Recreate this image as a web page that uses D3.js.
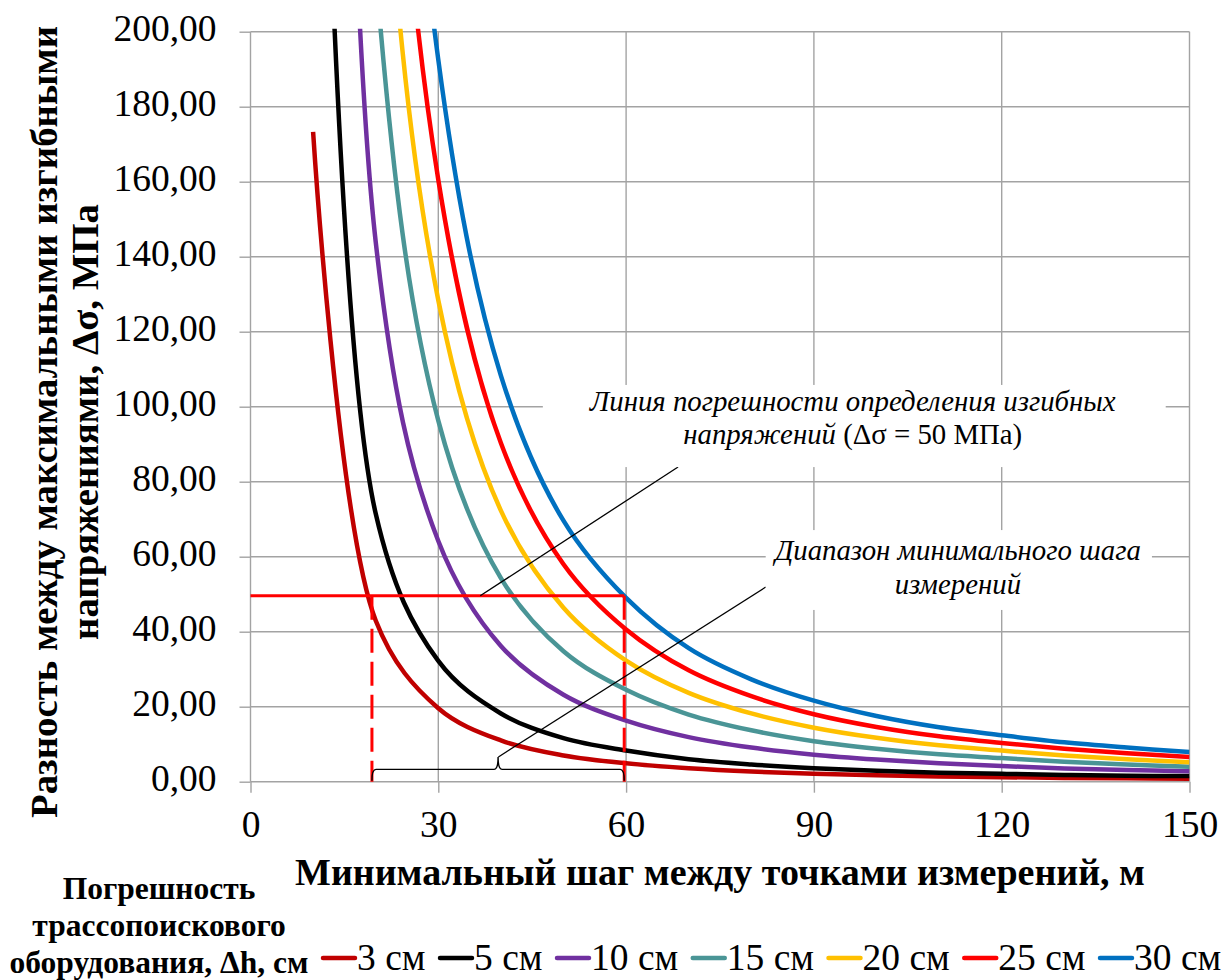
<!DOCTYPE html>
<html>
<head>
<meta charset="utf-8">
<script src="https://cdn.jsdelivr.net/npm/d3@7"></script>
<style>
  body { margin: 0; background: #fff; }
  svg { display: block; }
</style>
</head>
<body>
<div id="chart"></div>
<script>
'use strict';

// minimal step between measuring points, m
var steps = [10, 20, 30, 40, 50, 60, 70, 80, 90, 100, 110, 120, 130, 140, 150];

// legend names and colours (line finder error, cm)
var names = ['3 см', '5 см', '10 см', '15 см', '20 см', '25 см', '30 см'];
var colors = ['#C00000', '#000000', '#7030A0', '#4A9596', '#FFC000', '#FF0000', '#0070C0'];

// bending stress difference, MPa (values above 200 are off the chart)
var dh3  = [173.3, 43.0, 19.6, 11.0, 7.0, 4.9, 3.6, 2.7, 2.1, 1.7, 1.4, 1.2, 1.0, 0.9, 0.8];
var dh5  = [400.0, 71.5, 32.2, 18.2, 11.6, 8.3, 6.0, 4.6, 3.6, 2.9, 2.4, 2.1, 1.8, 1.6, 1.5];
var dh10 = [1050.0, 144.0, 64.2, 36.2, 23.2, 16.3, 11.9, 9.1, 7.2, 5.9, 4.9, 4.2, 3.5, 3.1, 2.8];
var dh15 = [865.0, 216.0, 96.3, 54.3, 34.8, 24.5, 17.9, 13.7, 10.8, 8.8, 7.3, 6.3, 5.3, 4.6, 4.0];
var dh20 = [1153.0, 288.0, 128.4, 72.3, 46.4, 32.3, 23.7, 18.2, 14.4, 11.7, 9.7, 8.3, 7.0, 6.0, 5.2];
var dh25 = [1442.0, 360.0, 160.5, 90.3, 58.0, 40.6, 29.7, 22.8, 18.0, 14.6, 12.1, 10.3, 8.8, 7.6, 6.6];
var dh30 = [1730.0, 432.0, 192.5, 108.3, 69.6, 49.0, 35.6, 27.3, 21.6, 17.5, 14.5, 12.4, 10.5, 9.1, 7.9];
var series = [dh3, dh5, dh10, dh15, dh20, dh25, dh30];

// axis ticks
var xTicks = [0, 30, 60, 90, 120, 150];
var yTicks = [0, 20, 40, 60, 80, 100, 120, 140, 160, 180, 200];

// error level and step range marked on the chart
var errorLevel = 49.6;
var stepRange = [19.4, 59.7];

// constants
var width = 1223,
  height = 980,
  font = 'Liberation Serif',
  plot = { left: 250.5, right: 1189.5, top: 31.7, bottom: 781.7 };

var fmt = d3.formatLocale({ decimal: ',', thousands: ' ', grouping: [3], currency: ['', ''] }).format('.2f');

var x = d3.scaleLinear().domain([0, 150]).range([plot.left, plot.right]);
var y = d3.scaleLinear().domain([0, 200]).range([plot.bottom, plot.top]);

var svg = d3.select('#chart')
  .append('svg')
  .attr('width', width)
  .attr('height', height)
  .attr('font-family', font);

svg.append('defs')
  .append('clipPath')
    .attr('id', 'plot-clip')
  .append('rect')
    .attr('x', plot.left)
    .attr('y', plot.top - 3)
    .attr('width', plot.right - plot.left)
    .attr('height', plot.bottom - plot.top + 3);

//gridlines
var grid = svg.append('g')
  .attr('stroke', '#A3A3A3')
  .attr('stroke-width', 1.4);

grid.selectAll('line.h')
  .data(yTicks)
  .enter()
  .append('line')
    .attr('x1', plot.left)
    .attr('x2', plot.right)
    .attr('y1', function(d) { return y(d); })
    .attr('y2', function(d) { return y(d); });

grid.selectAll('line.v')
  .data(xTicks)
  .enter()
  .append('line')
    .attr('x1', function(d) { return x(d); })
    .attr('x2', function(d) { return x(d); })
    .attr('y1', plot.top)
    .attr('y2', plot.bottom);

//axes
var yAxis = svg.append('g')
  .attr('transform', 'translate(' + plot.left + ',0)')
  .call(d3.axisLeft(y).tickValues(yTicks).tickSize(11).tickPadding(23).tickFormat(fmt));

var xAxis = svg.append('g')
  .attr('transform', 'translate(0,' + plot.bottom + ')')
  .call(d3.axisBottom(x).tickValues(xTicks).tickSize(11).tickPadding(18));

[xAxis, yAxis].forEach(function(ax) {
  ax.attr('font-family', font).attr('font-size', null);
  ax.select('.domain').remove();
  ax.selectAll('.tick line').attr('stroke', '#A3A3A3').attr('stroke-width', 1.4);
  ax.selectAll('.tick text').attr('fill', '#000').attr('font-size', 37.5);
});
yAxis.selectAll('.tick text').attr('dy', '0.24em');

//curves
var line = d3.line()
  .x(function(d, i) { return x(steps[i]); })
  .y(function(d) { return y(d); })
  .curve(d3.curveCatmullRom.alpha(0.5));

svg.append('g')
  .attr('clip-path', 'url(#plot-clip)')
  .selectAll('path')
  .data(series)
  .enter()
  .append('path')
    .attr('d', line)
    .attr('fill', 'none')
    .attr('stroke', function(d, i) { return colors[i]; })
    .attr('stroke-width', 4.5)
    .attr('stroke-linejoin', 'round');

//error level and step range
var marks = svg.append('g')
  .attr('stroke', '#FF0000')
  .attr('stroke-width', 3)
  .attr('fill', 'none');

marks.append('line')
  .attr('x1', x(0))
  .attr('x2', x(stepRange[1]))
  .attr('y1', y(errorLevel))
  .attr('y2', y(errorLevel));

marks.selectAll('line.drop')
  .data(stepRange)
  .enter()
  .append('line')
    .attr('x1', function(d) { return x(d); })
    .attr('x2', function(d) { return x(d); })
    .attr('y1', y(errorLevel))
    .attr('y2', y(0))
    .attr('stroke-dasharray', '24,9');

// curly bracket over the range
var bx0 = x(stepRange[0]),
  bx1 = x(stepRange[1]),
  bxm = (bx0 + bx1) / 2,
  by0 = y(0),
  by1 = y(3.3),
  by2 = y(6.6),
  r = 4;
var brace = d3.path();
brace.moveTo(bx0, by0 - 1);
brace.quadraticCurveTo(bx0, by1, bx0 + r, by1);
brace.lineTo(bxm - r, by1);
brace.quadraticCurveTo(bxm, by1, bxm, by2);
brace.quadraticCurveTo(bxm, by1, bxm + r, by1);
brace.lineTo(bx1 - r, by1);
brace.quadraticCurveTo(bx1, by1, bx1, by0 - 1);

svg.append('path')
  .attr('d', brace.toString())
  .attr('fill', 'none')
  .attr('stroke', '#000')
  .attr('stroke-width', 1.4);

//notes (each line is a list of [text, italic] runs)
var notes = [
  { lines: [[['Линия погрешности определения изгибных', true]],
            [['напряжений ', true], ['(Δσ = 50 МПа)', false]]],
    box: [46.7, 146.2, 105.8, 83.9], cx: 96.2, base: 98.9, from: [36.7, errorLevel], to: [68.3, 83.9] },
  { lines: [[['Диапазон минимального шага', true]], [['измерений', true]]],
    box: [82.3, 144.0, 67.1, 45.8], cx: 113.0, base: 59.0, from: [39.6, 6.6], to: [82.3, 51.9] }
];

var note = svg.append('g')
  .selectAll('g')
  .data(notes)
  .enter()
  .append('g');

note.append('line')
  .attr('x1', function(d) { return x(d.from[0]); })
  .attr('y1', function(d) { return y(d.from[1]); })
  .attr('x2', function(d) { return x(d.to[0]); })
  .attr('y2', function(d) { return y(d.to[1]); })
  .attr('stroke', '#000')
  .attr('stroke-width', 1.3);

note.append('rect')
  .attr('x', function(d) { return x(d.box[0]); })
  .attr('y', function(d) { return y(d.box[2]); })
  .attr('width', function(d) { return x(d.box[1]) - x(d.box[0]); })
  .attr('height', function(d) { return y(d.box[3]) - y(d.box[2]); })
  .attr('fill', '#fff');

note.each(function(d) {
  var g = d3.select(this);
  d.lines.forEach(function(runs, i) {
    var t = g.append('text')
      .attr('x', x(d.cx))
      .attr('y', y(d.base) + i * 33.5)
      .attr('text-anchor', 'middle')
      .attr('font-family', font)
      .attr('font-size', 28.8);
    runs.forEach(function(run) {
      t.append('tspan')
        .attr('font-style', run[1] ? 'italic' : 'normal')
        .text(run[0]);
    });
  });
});

//axis titles
svg.append('text')
  .attr('x', (plot.left + plot.right) / 2)
  .attr('y', 885)
  .attr('text-anchor', 'middle')
  .attr('font-family', font)
  .attr('font-weight', 'bold')
  .attr('font-size', 38)
  .text('Минимальный шаг между точками измерений, м');

svg.append('text')
  .attr('transform', 'rotate(-90)')
  .attr('text-anchor', 'middle')
  .attr('font-family', font)
  .attr('font-weight', 'bold')
  .attr('font-size', 38.8)
  .selectAll('tspan')
  .data(['Разность между максимальными изгибными', 'напряжениями, Δσ, МПа'])
  .enter()
  .append('tspan')
    .attr('x', -422)
    .attr('y', function(d, i) { return i ? 98 : 57; })
    .text(function(d) { return d; });

//legend
svg.append('text')
  .attr('text-anchor', 'middle')
  .attr('font-family', font)
  .attr('font-weight', 'bold')
  .attr('font-size', 31.5)
  .selectAll('tspan')
  .data(['Погрешность', 'трассопоискового', 'оборудования, Δh, см'])
  .enter()
  .append('tspan')
    .attr('x', 159)
    .attr('y', function(d, i) { return 899 + i * 37; })
    .text(function(d) { return d; });

var legend = svg.append('g');
var lx = 323;
names.forEach(function(name, i) {
  legend.append('line')
    .attr('x1', lx)
    .attr('x2', lx + 32)
    .attr('y1', 958)
    .attr('y2', 958)
    .attr('stroke', colors[i])
    .attr('stroke-width', 4.5)
    .attr('stroke-linecap', 'round');
  var t = legend.append('text')
    .attr('x', lx + 34)
    .attr('y', 970)
    .attr('font-family', font)
    .attr('font-size', 37.5)
    .text(name);
  lx += 34 + t.node().getComputedTextLength() + 14.5;
});
</script>
</body>
</html>
